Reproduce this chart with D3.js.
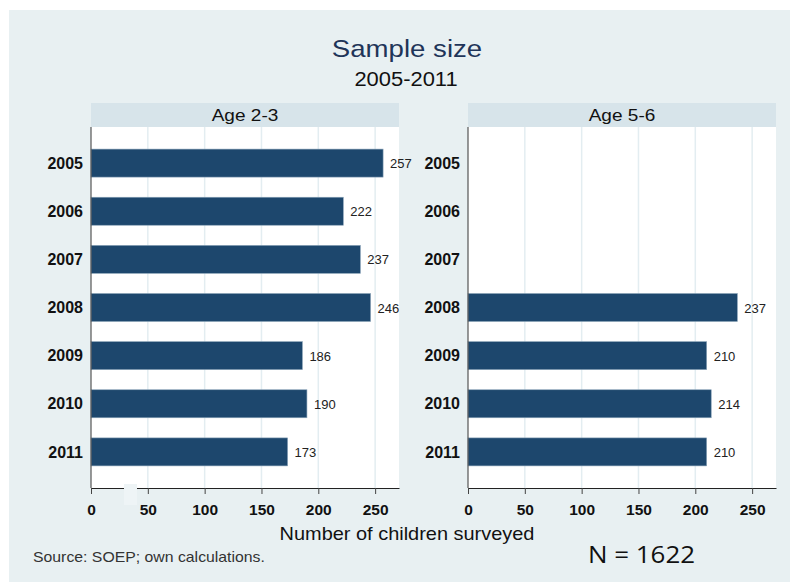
<!DOCTYPE html>
<html>
<head>
<meta charset="utf-8">
<script src="https://cdn.jsdelivr.net/npm/d3@7"></script>
<style>
  html, body { margin: 0; padding: 0; background: #ffffff; }
  svg { display: block; font-family: Arial, "Liberation Sans", sans-serif; }
</style>
</head>
<body>
<div id="chart"></div>
<script>
// Survey years (rows) and the number of children per age group
const years = ["2005", "2006", "2007", "2008", "2009", "2010", "2011"];
const age23 = [257, 222, 237, 246, 186, 190, 173];
const age56 = [null, null, null, 237, 210, 214, 210];
const panelTitles = ["Age 2-3", "Age 5-6"];
const xTicks = [0, 50, 100, 150, 200, 250];

const W = 790, H = 582;
const svg = d3.select("#chart").append("svg").attr("width", W).attr("height", H);

// text placed at (x, y), slightly widened horizontally
function label(parent, x, y, str, size, sx, anchor) {
  return parent.append("text")
    .attr("transform", `translate(${x},${y}) scale(${sx},1)`)
    .attr("text-anchor", anchor || "start")
    .attr("font-size", size)
    .text(str);
}

// background
svg.append("rect").attr("x", 9).attr("y", 10).attr("width", W - 9).attr("height", H - 10)
  .attr("fill", "#e8f0f2");

// titles
label(svg, 407, 57, "Sample size", 24, 1.15, "middle").attr("fill", "#1f3559");
label(svg, 406, 86, "2005-2011", 20.5, 1.07, "middle").attr("fill", "#111");

const plotTop = 127, plotBottom = 488, headerH = 24;
const panels = [
  { x0: 91, x1: 399, values: age23, title: panelTitles[0] },
  { x0: 468, x1: 776, values: age56, title: panelTitles[1] }
];

const y = d3.scalePoint().domain(years).range([plotTop, plotBottom]).padding(0.75);
const barH = 28;

panels.forEach(p => {
  const x = d3.scaleLinear().domain([0, 271]).range([p.x0, p.x1]);
  const g = svg.append("g");

  // strip header
  g.append("rect").attr("x", p.x0).attr("y", plotTop - headerH).attr("width", p.x1 - p.x0)
    .attr("height", headerH).attr("fill", "#d7e4ea");
  label(g, (p.x0 + p.x1) / 2, plotTop - 6, p.title, 17, 1.12, "middle").attr("fill", "#111");

  // plot region
  g.append("rect").attr("x", p.x0).attr("y", plotTop).attr("width", p.x1 - p.x0)
    .attr("height", plotBottom - plotTop).attr("fill", "#ffffff");

  // vertical grid
  g.selectAll("line.grid").data(xTicks.slice(1)).join("line")
    .attr("x1", d => x(d)).attr("x2", d => x(d))
    .attr("y1", plotTop).attr("y2", plotBottom)
    .attr("stroke", "#e3edf1").attr("stroke-width", 1.5);

  // bars
  const rows = years.map((yr, i) => ({ yr, v: p.values[i] })).filter(d => d.v != null);
  g.selectAll("rect.bar").data(rows).join("rect")
    .attr("x", x(0)).attr("y", d => y(d.yr) - barH / 2)
    .attr("width", d => x(d.v) - x(0)).attr("height", barH)
    .attr("fill", "#1d476d").attr("stroke", "#8aa3b8").attr("stroke-width", 0.6);

  // value labels
  g.selectAll("text.val").data(rows).join("text")
    .attr("x", d => x(d.v) + 7).attr("y", d => y(d.yr) + 5)
    .attr("font-size", 13).attr("fill", "#222").text(d => d.v);

  // y axis (year labels)
  const yAxis = g.append("g").attr("transform", `translate(${p.x0},0)`)
    .call(d3.axisLeft(y).tickSize(0).tickPadding(8));
  yAxis.select(".domain").attr("stroke", "#555").attr("stroke-width", 1.2)
    .attr("d", `M0,${plotTop}V${plotBottom}`);
  yAxis.selectAll("text").attr("font-size", 16).attr("font-weight", "bold")
    .attr("fill", "#111").attr("font-family", "Arial, 'Liberation Sans', sans-serif");

  // x axis
  const xAxis = g.append("g").attr("transform", `translate(0,${plotBottom})`)
    .call(d3.axisBottom(x).tickValues(xTicks).tickSize(6).tickPadding(10).tickSizeOuter(0));
  xAxis.select(".domain").attr("stroke", "#222").attr("stroke-width", 1.2);
  xAxis.selectAll(".tick line").attr("stroke", "#444");
  xAxis.selectAll("text").attr("font-size", 15.5).attr("font-weight", "bold").attr("fill", "#111")
    .attr("font-family", "Arial, 'Liberation Sans', sans-serif");
});

// small pale patch over the left axis
svg.append("rect").attr("x", 124).attr("y", 484).attr("width", 13).attr("height", 21)
  .attr("fill", "#eef4f6");

// axis title and notes
label(svg, 407, 540, "Number of children surveyed", 17.5, 1.14, "middle").attr("fill", "#111");
label(svg, 33, 562, "Source: SOEP; own calculations.", 14, 1.13).attr("fill", "#333");
label(svg, 588, 563, "N = 1622", 24, 1.08)
  .attr("font-family", "'Open Sans', 'Noto Sans', sans-serif").attr("fill", "#111");
</script>
</body>
</html>
